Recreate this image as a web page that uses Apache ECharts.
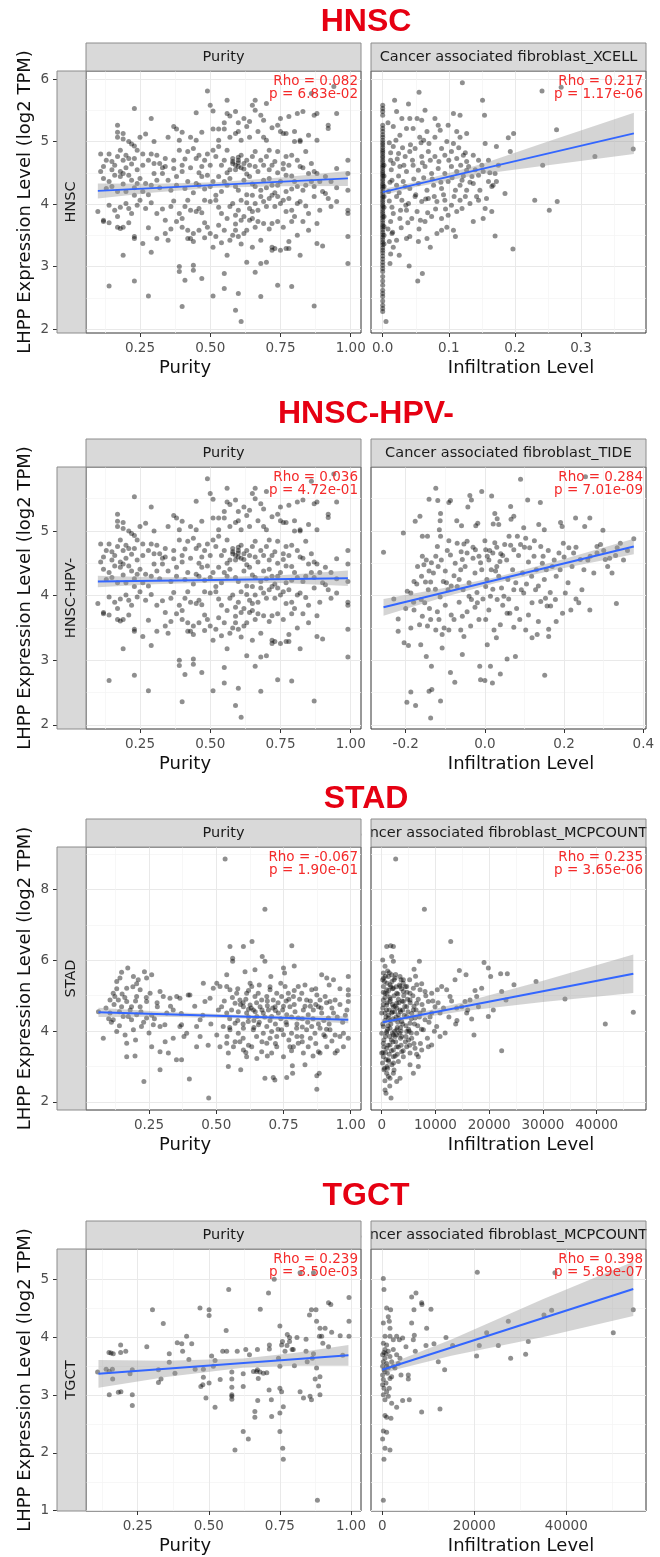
<!DOCTYPE html>
<html>
<head>
<meta charset="utf-8">
<script src="https://cdn.jsdelivr.net/npm/echarts@6/dist/echarts.min.js"></script>
<style>
html, body { margin: 0; padding: 0; background: #fff; }
#chart { width: 660px; height: 1557px; }
</style>
</head>
<body>
<div id="chart"></div>
<script>
// ---------- data ----------
var hnscPurity = [
  [0.49,5.81],[0.23,5.53],[0.29,5.37],[0.45,5.46],[0.50,5.58],[0.51,5.49],[0.56,5.66],[0.56,5.45],[0.59,5.48],[0.57,5.41],
  [0.62,5.37],[0.65,5.58],[0.66,5.66],[0.66,5.50],[0.68,5.42],[0.70,5.61],[0.69,5.34],[0.75,5.37],[0.78,5.40],[0.81,5.45],
  [0.83,5.48],[0.87,5.42],[0.88,5.45],[0.95,5.45],[0.92,5.26],[0.92,5.21],[0.86,5.77],[0.94,5.88],
  [0.17,5.26],[0.17,5.15],[0.19,5.13],[0.17,5.07],[0.21,5.00],[0.22,4.96],[0.25,5.07],[0.23,4.93],[0.37,5.24],[0.38,5.20],
  [0.35,5.07],[0.39,5.02],[0.43,5.07],[0.45,5.02],[0.51,5.20],[0.53,5.20],[0.55,5.20],[0.53,5.02],[0.57,5.07],[0.59,5.13],
  [0.60,5.16],[0.61,5.02],[0.64,5.07],[0.67,5.16],[0.69,5.07],[0.70,5.02],[0.74,5.26],[0.75,5.16],[0.76,5.13],[0.77,5.13],
  [0.80,5.16],[0.80,5.00],[0.82,5.00],[0.82,5.02],[0.85,5.10],[0.88,5.02],
  [0.11,4.80],[0.14,4.80],[0.11,4.52],[0.12,4.60],[0.15,4.68],[0.17,4.76],[0.18,4.86],[0.20,4.78],[0.21,4.73],[0.23,4.73],
  [0.24,4.86],[0.26,4.80],[0.29,4.80],[0.30,4.65],[0.32,4.65],[0.34,4.73],[0.34,4.60],[0.37,4.57],[0.39,4.86],[0.42,4.84],
  [0.44,4.89],[0.45,4.73],[0.46,4.78],[0.49,4.80],[0.51,4.86],[0.52,4.76],[0.53,4.92],[0.56,4.86],[0.58,4.73],[0.58,4.65],
  [0.60,4.70],[0.60,4.60],[0.61,4.78],[0.62,4.65],[0.63,4.70],[0.65,4.76],[0.66,4.60],[0.66,4.84],[0.68,4.70],[0.70,4.76],
  [0.71,4.86],[0.72,4.62],[0.74,4.84],[0.76,4.65],[0.77,4.76],[0.79,4.78],[0.81,4.70],[0.82,4.60],[0.84,4.84],[0.85,4.49],
  [0.87,4.52],[0.91,4.44],[0.95,4.57],[0.99,4.70],[0.59,4.62],[0.60,4.66],[0.61,4.58],
  [0.12,4.41],[0.14,4.36],[0.16,4.46],[0.18,4.44],[0.19,4.49],[0.21,4.46],[0.22,4.38],[0.24,4.33],[0.25,4.41],[0.27,4.33],
  [0.30,4.49],[0.31,4.38],[0.33,4.49],[0.35,4.38],[0.38,4.44],[0.40,4.52],[0.42,4.36],[0.45,4.33],[0.47,4.44],[0.49,4.46],
  [0.51,4.36],[0.53,4.44],[0.55,4.36],[0.57,4.41],[0.59,4.28],[0.62,4.38],[0.64,4.44],[0.66,4.28],[0.69,4.38],[0.71,4.41],
  [0.72,4.30],[0.75,4.36],[0.77,4.46],[0.80,4.36],[0.81,4.28],[0.84,4.30],[0.86,4.36],[0.88,4.49],[0.89,4.36],[0.93,4.36],
  [0.99,4.49],[0.13,4.25],[0.20,4.20],[0.28,4.15],[0.36,4.22],[0.44,4.18],[0.48,4.24],[0.54,4.20],[0.63,4.15],[0.68,4.22],
  [0.73,4.18],[0.79,4.24],[0.90,4.20],
  [0.10,3.88],[0.12,3.74],[0.14,3.98],[0.16,3.90],[0.17,3.80],[0.20,4.01],[0.21,3.93],[0.22,3.85],[0.23,4.14],[0.25,4.06],
  [0.27,3.93],[0.31,3.85],[0.34,3.74],[0.36,3.96],[0.39,3.85],[0.40,3.77],[0.42,4.06],[0.43,3.90],[0.45,3.88],[0.46,3.93],
  [0.48,4.06],[0.50,4.04],[0.52,4.14],[0.52,4.06],[0.54,3.85],[0.56,3.77],[0.57,3.96],[0.58,4.01],[0.60,3.90],[0.61,4.06],
  [0.62,3.80],[0.64,3.93],[0.65,4.14],[0.65,3.88],[0.66,4.01],[0.68,4.12],[0.69,4.04],[0.70,3.96],[0.71,4.09],[0.72,4.14],
  [0.74,4.12],[0.75,4.01],[0.76,4.06],[0.78,4.09],[0.79,3.90],[0.80,3.80],[0.81,4.01],[0.82,4.04],[0.85,3.85],[0.87,4.12],
  [0.91,4.17],[0.92,4.09],[0.93,3.96],[0.95,4.04],[0.99,4.22],[0.99,3.85],[0.99,3.90],
  [0.12,3.72],[0.17,3.63],[0.18,3.61],[0.19,3.63],[0.23,3.48],[0.23,3.45],[0.26,3.37],[0.31,3.45],[0.34,3.53],[0.35,3.42],
  [0.38,3.72],[0.40,3.63],[0.42,3.58],[0.42,3.45],[0.43,3.45],[0.44,3.53],[0.46,3.58],[0.49,3.63],[0.50,3.53],[0.52,3.48],
  [0.55,3.58],[0.57,3.42],[0.58,3.50],[0.59,3.58],[0.60,3.48],[0.61,3.74],[0.62,3.53],[0.63,3.58],[0.64,3.74],[0.65,3.77],
  [0.66,3.63],[0.69,3.69],[0.72,3.69],[0.74,3.72],[0.76,3.63],[0.79,3.72],[0.83,3.72],[0.85,3.58],[0.88,3.69],[0.99,3.48],
  [0.19,3.18],[0.29,3.23],[0.39,3.00],[0.39,2.92],[0.41,2.78],[0.44,3.02],[0.44,2.94],[0.47,2.81],[0.51,3.31],[0.55,2.89],
  [0.56,3.18],[0.63,3.07],[0.66,2.91],[0.68,3.05],[0.70,3.07],[0.72,3.31],[0.72,3.26],[0.73,3.29],[0.75,3.26],[0.77,3.29],
  [0.78,3.40],[0.78,3.29],[0.82,3.18],[0.88,3.37],[0.90,3.33],[0.99,3.05],[0.65,3.31],
  [0.14,2.69],[0.23,2.77],[0.28,2.53],[0.40,2.36],[0.51,2.53],[0.55,2.65],[0.59,2.30],[0.60,2.57],[0.61,2.12],[0.68,2.52],
  [0.74,2.70],[0.79,2.68],[0.87,2.37],
  [0.58,4.68],[0.59,4.55],[0.60,4.75],[0.62,4.56],[0.63,4.48],[0.64,4.62],[0.57,4.55],[0.55,4.70],[0.54,4.62],[0.56,4.50],
  [0.67,4.52],[0.69,4.62],[0.71,4.55],[0.73,4.68],[0.74,4.50],[0.76,4.56],[0.78,4.62],[0.79,4.45],[0.83,4.58],[0.86,4.65],
  [0.15,4.55],[0.16,4.62],[0.18,4.52],[0.19,4.70],[0.20,4.58],[0.22,4.64],[0.24,4.55],[0.26,4.62],[0.28,4.70],[0.13,4.70],
  [0.40,4.62],[0.41,4.72],[0.43,4.58],[0.47,4.60],[0.48,4.70],[0.50,4.62],[0.46,4.50],[0.37,4.70],[0.33,4.58],[0.31,4.78],
  [0.15,4.28],[0.17,4.20],[0.19,4.32],[0.23,4.26],[0.26,4.20],[0.29,4.30],[0.32,4.26],[0.38,4.30],[0.41,4.25],[0.46,4.30],
  [0.50,4.28],[0.56,4.30],[0.60,4.22],[0.65,4.32],[0.70,4.26],[0.74,4.30],[0.77,4.20],[0.83,4.22],[0.87,4.28],[0.95,4.26],
  [0.18,3.95],[0.24,3.98],[0.29,4.02],[0.33,3.92],[0.37,4.05],[0.41,3.96],[0.47,3.86],[0.53,3.95],[0.59,3.82],[0.63,4.02],
  [0.67,3.90],[0.73,3.96],[0.77,3.88],[0.84,3.97],[0.89,3.90],[0.48,3.70],[0.53,3.66],[0.59,3.68],[0.67,3.72],[0.71,3.60],
  [0.44,3.40],[0.48,3.46],[0.54,3.38],[0.61,3.36],[0.68,3.42],[0.81,3.50],[0.36,3.60],[0.28,3.62],[0.14,3.70],[0.21,3.70],
  [0.60,5.30],[0.63,5.24],[0.72,5.22],[0.64,5.32],[0.55,5.30],[0.47,5.15],[0.40,5.15],[0.30,5.00],[0.27,5.12],[0.19,5.04]
];

var hnscXcell = [
  [0,5.58],[0,5.53],[0,5.48],[0,5.42],[0,5.26],[0,5.21],[0,5.16],[0,5.11],[0,5.07],[0,5.02],[0,4.98],[0,4.95],[0,4.91],
  [0,4.87],[0,4.84],[0,4.81],[0,4.77],[0,4.74],[0,4.70],[0,4.67],[0,4.63],[0,4.60],[0,4.57],[0,4.53],[0,4.50],[0,4.47],
  [0,4.44],[0,4.40],[0,4.37],[0,4.33],[0,4.30],[0,4.27],[0,4.24],[0,4.20],[0,4.17],[0,4.13],[0,4.10],[0,4.06],[0,4.03],
  [0,3.99],[0,3.96],[0,3.92],[0,3.88],[0,3.85],[0,3.81],[0,3.78],[0,3.74],[0,3.70],[0,3.66],[0,3.63],[0,3.59],[0,3.55],
  [0,3.51],[0,3.47],[0,3.43],[0,3.39],[0,3.35],[0,3.30],[0,3.26],[0,3.22],[0,3.17],[0,3.12],[0,3.07],[0,3.02],[0,2.97],
  [0,2.92],[0,2.84],[0,2.77],[0,2.70],[0,2.62],[0,2.57],[0,2.52],[0,2.45],[0,2.38],[0,2.33],[0,2.28],[0.005,2.12],
  [0.002,4.62],[0.002,4.45],[0.002,4.28],[0.002,4.12],[0.002,3.95],[0.002,3.80],[0.002,3.64],[0.002,3.50],[0.002,3.36],
  [0.1205,5.94],[0.055,5.79],[0.018,5.66],[0.039,5.60],[0.064,5.50],[0.151,5.66],[0.154,5.42],[0.241,5.81],[0.27,5.87],
  [0.021,5.48],[0.029,5.37],[0.041,5.37],[0.052,5.37],[0.059,5.34],[0.079,5.37],[0.107,5.45],[0.117,5.42],[0.084,5.26],
  [0.099,5.26],[0.087,5.18],[0.112,5.16],[0.127,5.13],[0.117,5.07],[0.067,5.16],[0.046,5.21],[0.036,5.21],[0.016,5.24],
  [0.026,5.10],[0.056,5.07],[0.062,5.02],[0.079,5.07],[0.097,5.00],[0.107,4.97],[0.155,4.97],[0.172,4.92],[0.190,5.06],
  [0.198,5.13],[0.193,4.84],[0.263,5.19],[0.321,4.76],[0.379,4.88],[0.242,4.62],
  [0.016,4.92],[0.024,4.81],[0.034,4.76],[0.041,4.84],[0.049,4.89],[0.059,4.76],[0.069,4.84],[0.079,4.76],[0.089,4.89],
  [0.094,4.78],[0.104,4.84],[0.112,4.73],[0.122,4.78],[0.127,4.68],[0.137,4.78],[0.145,4.70],[0.016,4.65],[0.026,4.60],
  [0.036,4.52],[0.046,4.62],[0.054,4.54],[0.064,4.60],[0.074,4.49],[0.084,4.57],[0.094,4.49],[0.104,4.60],[0.112,4.52],
  [0.120,4.38],[0.127,4.54],[0.135,4.44],[0.145,4.46],[0.152,4.52],[0.160,4.36],[0.170,4.49],[0.167,4.30],[0.172,4.36],
  [0.014,4.38],[0.021,4.30],[0.031,4.36],[0.041,4.25],[0.054,4.33],[0.067,4.22],[0.077,4.30],[0.089,4.25],[0.099,4.36],
  [0.110,4.22],[0.117,4.30],[0.127,4.22],[0.137,4.33],[0.147,4.22],[0.165,4.28],[0.185,4.17],[0.157,4.09],
  [0.021,4.12],[0.029,4.06],[0.039,4.01],[0.049,4.12],[0.059,4.04],[0.069,4.09],[0.082,4.04],[0.094,4.06],[0.104,3.98],
  [0.117,4.06],[0.125,4.12],[0.132,4.01],[0.145,4.06],[0.155,3.93],[0.165,3.88],[0.230,4.06],[0.264,4.04],[0.252,3.90],
  [0.016,3.85],[0.026,3.77],[0.036,3.90],[0.044,3.77],[0.057,3.74],[0.064,3.72],[0.074,3.80],[0.089,3.77],[0.099,3.82],
  [0.112,3.88],[0.120,3.93],[0.137,3.72],[0.152,3.77],[0.014,3.53],[0.021,3.42],[0.036,3.45],[0.041,3.48],[0.054,3.40],
  [0.067,3.45],[0.072,3.31],[0.082,3.53],[0.089,3.58],[0.097,3.63],[0.107,3.58],[0.110,3.48],[0.170,3.49],[0.016,3.31],
  [0.025,3.18],[0.040,3.01],[0.060,2.89],[0.053,2.77],[0.197,3.28],[0.012,4.70],[0.010,4.05],[0.008,3.60],
  [0.008,5.30],[0.010,4.98],[0.012,4.82],[0.013,4.55],[0.011,4.35],[0.009,4.20],[0.014,3.95],[0.012,3.72],[0.015,3.55],
  [0.010,3.40],[0.012,3.20],[0.011,3.05],[0.020,5.02],[0.022,4.72],[0.024,4.45],[0.025,4.18],[0.027,3.90],[0.028,3.62],
  [0.030,4.90],[0.032,4.62],[0.034,4.28],[0.035,3.98],[0.038,3.70],[0.042,4.95],[0.045,4.70],[0.047,4.40],[0.050,4.15],
  [0.052,3.88],[0.055,3.60],[0.058,4.98],[0.060,4.66],[0.062,4.42],[0.065,4.08],[0.068,3.86],[0.070,4.97],[0.072,4.70],
  [0.075,4.40],[0.078,4.12],[0.080,3.92],[0.085,4.68],[0.088,4.35],[0.092,4.15],[0.095,3.92],[0.100,4.70],[0.105,4.42],
  [0.108,4.12],[0.115,4.90],[0.118,4.62],[0.122,4.45],[0.125,4.82],[0.130,4.60],[0.132,4.35],[0.140,4.55],[0.142,4.12],
  [0.150,4.62],[0.160,4.70],[0.162,4.50],[0.175,4.62]
];

var hpvNegPurity = hnscPurity;

var hpvNegTide = [
  [-0.256,4.67],[-0.206,4.97],[-0.124,5.66],[-0.141,5.49],[-0.119,5.47],[-0.091,5.44],[-0.087,5.47],[-0.038,5.55],
  [-0.034,5.48],[-0.008,5.61],[0.017,5.54],[-0.043,5.37],[0.090,5.80],[0.108,5.48],[0.140,5.44],[0.254,5.84],
  [-0.164,5.23],[-0.176,5.15],[-0.112,5.27],[-0.113,5.16],[-0.115,5.02],[-0.112,4.92],[-0.158,4.92],[-0.145,4.92],
  [-0.071,5.16],[-0.059,5.08],[-0.023,5.08],[-0.018,5.12],[0.025,5.27],[0.031,5.19],[0.065,5.38],[0.073,5.23],
  [0.066,5.18],[0.021,5.11],[0.035,5.10],[0.098,5.05],[0.136,5.10],[0.150,5.02],[0.191,5.13],[0.195,5.07],[0.229,5.20],
  [0.252,5.07],[0.265,5.20],[0.298,5.01],
  [-0.091,4.85],[-0.070,4.81],[-0.053,4.80],[-0.045,4.84],[-0.087,4.63],[-0.120,4.76],[-0.124,4.61],[-0.135,4.51],
  [-0.158,4.61],[-0.154,4.48],[-0.141,4.38],[-0.118,4.45],[-0.105,4.22],[-0.097,4.20],[-0.078,4.31],[-0.061,4.40],
  [-0.057,4.56],[-0.045,4.66],[-0.024,4.71],[-0.015,4.61],[-0.011,4.51],[0.002,4.71],[0.006,4.61],[0.016,4.40],
  [0.027,4.38],[0.038,4.53],[0.050,4.79],[0.061,4.92],[0.073,4.71],[0.082,4.92],[0.090,4.79],[0.103,4.89],[0.113,4.74],
  [0.124,4.61],[0.141,4.76],[0.147,4.61],[0.155,4.40],[0.170,4.45],[0.187,4.66],[0.198,4.81],[0.212,4.74],[0.224,4.66],
  [0.241,4.56],[0.266,4.61],[0.283,4.76],[0.304,4.56],[0.321,4.35],[0.315,4.58],[0.334,4.74],[0.342,4.81],[0.376,4.88],
  [0.283,4.66],[0.292,4.79],[0.010,4.55],[0.020,4.66],[-0.030,4.58],[0.045,4.62],[0.030,4.75],
  [-0.196,4.07],[-0.187,4.04],[-0.179,4.22],[-0.172,4.18],[-0.150,4.21],[-0.137,4.21],[-0.143,4.09],[-0.161,3.94],
  [-0.152,3.89],[-0.113,3.98],[-0.093,4.09],[-0.070,4.14],[-0.055,4.09],[-0.040,3.99],[-0.034,3.94],[-0.019,3.89],
  [0.002,4.14],[0.014,3.99],[0.031,3.94],[0.048,3.99],[0.056,3.73],[0.063,3.73],[0.073,4.09],[0.092,4.09],[0.098,4.04],
  [0.119,3.89],[0.128,4.09],[0.141,3.91],[0.153,3.96],[0.157,3.84],[0.166,3.84],[0.178,3.94],[0.196,3.73],[0.203,4.04],
  [0.217,3.78],[0.237,3.89],[0.245,4.09],[0.265,3.78],[0.332,3.88],
  [-0.219,3.64],[-0.219,3.45],[-0.187,3.50],[-0.204,3.27],[-0.193,3.23],[-0.162,3.24],[-0.179,3.78],[-0.158,3.68],
  [-0.145,3.53],[-0.137,3.63],[-0.116,3.63],[-0.124,3.47],[-0.108,3.40],[-0.103,3.50],[-0.091,3.47],[-0.078,3.63],
  [-0.057,3.68],[-0.061,3.47],[-0.053,3.37],[-0.036,3.53],[-0.015,3.63],[0.002,3.63],[0.023,3.47],[0.029,3.35],
  [0.006,3.24],[0.039,3.55],[0.073,3.51],[0.088,3.63],[0.103,3.47],[0.119,3.35],[0.132,3.40],[0.161,3.37],[0.161,3.48],
  [-0.108,3.19],[-0.148,3.06],[-0.135,2.91],[-0.134,2.55],[-0.141,2.52],[-0.087,2.81],[-0.076,2.66],[-0.057,3.09],
  [-0.013,2.91],[0.014,2.91],[-0.011,2.70],[0.000,2.69],[0.019,2.65],[0.039,2.79],[0.056,3.02],[0.077,3.06],[0.151,2.77],
  [-0.197,2.35],[-0.175,2.30],[-0.187,2.51],[-0.112,2.37],[-0.137,2.11],
  [-0.170,4.45],[-0.160,4.30],[-0.148,4.55],[-0.130,4.35],[-0.125,4.10],[-0.110,4.55],[-0.100,4.38],[-0.095,4.70],
  [-0.085,4.15],[-0.075,4.50],[-0.065,4.25],[-0.060,4.68],[-0.050,4.45],[-0.040,4.20],[-0.030,4.75],[-0.025,4.35],
  [-0.020,4.05],[-0.008,4.40],[0.000,4.85],[0.005,4.25],[0.012,4.70],[0.020,4.10],[0.025,4.82],[0.030,4.45],[0.035,4.30],
  [0.040,4.65],[0.042,4.12],[0.055,4.55],[0.058,4.25],[0.065,4.78],[0.070,4.40],[0.078,4.20],[0.085,4.62],[0.095,4.35],
  [0.100,4.75],[0.105,4.18],[0.110,4.52],[0.118,4.30],[0.125,4.85],[0.130,4.40],[0.135,4.15],[0.145,4.50],[0.150,4.25],
  [0.160,4.70],[0.165,4.05],[0.175,4.55],[0.180,4.30],[0.190,4.40],[0.200,4.60],[0.210,4.20],[0.220,4.45],[0.230,4.75],
  [0.250,4.40],[0.260,4.55],[0.275,4.35],[0.300,4.70],[0.310,4.45],[0.330,4.62],[0.350,4.55],[0.360,4.70],
  [-0.180,3.90],[-0.165,3.55],[-0.140,3.80],[-0.120,3.75],[-0.100,3.85],[-0.085,3.70],[-0.065,3.90],[-0.045,3.75],
  [-0.025,3.82],[-0.005,3.95],[0.010,3.78],[0.045,3.85],[0.060,3.95],[0.080,3.80],[0.110,3.70],[0.135,3.60],[0.180,3.60],
  [0.230,3.95],[-0.200,3.80],[-0.230,3.95]
];

var stadPurity = [
  [0.533,8.86],[0.681,7.44],[0.551,6.39],[0.561,6.06],[0.561,5.97],[0.633,6.53],[0.601,6.39],[0.671,6.11],[0.681,5.97],
  [0.781,6.41],[0.790,5.84],[0.750,5.78],[0.754,5.64],[0.892,5.59],[0.911,5.50],[0.936,5.45],[0.991,5.54],[0.607,5.68],
  [0.644,5.73],[0.703,5.54],[0.539,5.59],[0.502,5.35],[0.452,5.35],
  [0.171,5.78],[0.192,5.54],[0.130,5.40],[0.142,5.50],[0.148,5.66],[0.233,5.68],[0.241,5.50],[0.260,5.59],[0.204,5.34],
  [0.217,5.17],[0.167,5.21],[0.117,5.07],[0.123,4.98],[0.136,4.88],[0.105,4.88],[0.148,4.69],[0.167,4.84],[0.185,4.69],
  [0.204,4.98],[0.217,4.69],[0.241,4.84],[0.254,5.07],[0.291,5.12],[0.303,4.98],[0.328,4.93],[0.353,4.98],[0.365,4.93],
  [0.396,5.02],[0.402,5.02],[0.281,4.69],[0.316,4.51],[0.340,4.60],[0.371,4.18],[0.340,3.80],[0.365,4.13],[0.390,3.94],
  [0.427,4.13],[0.440,4.32],[0.458,4.84],[0.477,4.93],[0.489,5.21],[0.508,4.60],[0.502,3.89],[0.062,4.55],[0.080,3.80],
  [0.105,4.51],[0.117,4.32],[0.130,3.99],[0.161,3.89],[0.154,4.41],[0.173,4.41],[0.185,4.32],[0.192,4.04],[0.204,4.46],
  [0.222,4.13],[0.241,4.37],[0.266,4.18],[0.291,4.13],[0.309,4.18],[0.167,3.66],[0.167,3.28],[0.198,3.30],[0.260,3.56],
  [0.291,3.42],[0.322,3.38],[0.352,3.19],[0.371,3.19],[0.427,3.56],[0.291,2.91],[0.400,2.65],[0.231,2.58],[0.472,2.11],
  [0.514,5.26],[0.539,5.26],[0.551,5.17],[0.576,5.07],[0.588,4.88],[0.613,5.07],[0.626,5.35],[0.632,5.26],[0.644,4.98],
  [0.656,5.07],[0.669,4.88],[0.688,4.98],[0.700,5.17],[0.712,4.88],[0.725,5.07],[0.743,4.98],[0.756,5.26],[0.768,5.07],
  [0.787,4.98],[0.805,5.26],[0.818,5.07],[0.836,4.88],[0.855,5.17],[0.874,5.02],[0.886,4.88],[0.905,4.98],[0.923,4.84],
  [0.942,4.88],[0.991,5.17],[0.991,5.02],[0.991,4.84],
  [0.520,4.69],[0.539,4.51],[0.557,4.60],[0.570,4.79],[0.582,4.55],[0.601,4.69],[0.613,4.51],[0.626,4.74],[0.638,4.60],
  [0.651,4.41],[0.663,4.69],[0.675,4.51],[0.694,4.60],[0.706,4.41],[0.719,4.69],[0.731,4.51],[0.747,4.60],[0.762,4.46],
  [0.774,4.69],[0.793,4.55],[0.805,4.37],[0.824,4.60],[0.842,4.46],[0.861,4.60],[0.880,4.69],[0.892,4.51],[0.917,4.37],
  [0.936,4.51],[0.986,4.60],[0.600,4.80],[0.620,4.62],[0.645,4.55],[0.690,4.72],[0.720,4.58],[0.760,4.85],[0.850,4.70],
  [0.526,4.13],[0.551,4.04],[0.570,4.22],[0.582,3.94],[0.601,4.08],[0.619,4.27],[0.638,4.04],[0.657,4.18],[0.675,3.94],
  [0.688,4.13],[0.706,3.99],[0.725,3.85],[0.743,4.04],[0.762,4.18],[0.780,3.94],[0.799,4.08],[0.818,3.85],[0.836,4.04],
  [0.855,4.13],[0.867,3.94],[0.886,4.08],[0.905,3.85],[0.923,4.04],[0.942,3.89],[0.973,3.94],[0.991,3.80],
  [0.514,3.56],[0.539,3.66],[0.545,3.38],[0.564,3.56],[0.588,3.70],[0.601,3.47],[0.613,3.28],[0.632,3.56],[0.651,3.23],
  [0.669,3.42],[0.688,3.66],[0.706,3.38],[0.725,3.56],[0.750,3.28],[0.774,3.56],[0.787,3.56],[0.805,3.66],[0.824,3.38],
  [0.830,3.05],[0.842,3.56],[0.880,3.42],[0.886,3.38],[0.911,3.56],[0.942,3.38],[0.973,3.56],[0.545,3.00],[0.591,2.91],
  [0.681,2.67],[0.712,2.69],[0.718,2.62],[0.762,2.69],[0.784,2.81],[0.874,2.74],[0.883,2.81],[0.874,2.36],[0.783,3.02],
  [0.53,4.85],[0.55,4.35],[0.56,4.95],[0.58,4.30],[0.59,4.75],[0.60,4.20],[0.61,4.90],[0.62,4.40],[0.63,4.65],[0.64,4.30],
  [0.65,4.80],[0.66,4.25],[0.67,4.60],[0.68,4.40],[0.69,4.85],[0.70,4.30],[0.71,4.65],[0.72,4.20],[0.73,4.80],[0.74,4.35],
  [0.75,4.70],[0.76,4.25],[0.77,4.90],[0.78,4.40],[0.79,4.75],[0.80,4.20],[0.81,4.90],[0.82,4.35],[0.83,4.70],[0.84,4.25],
  [0.85,4.85],[0.86,4.35],[0.87,4.75],[0.88,4.20],[0.89,4.65],[0.90,4.30],[0.91,4.80],[0.92,4.20],[0.93,4.65],[0.95,4.40],
  [0.96,4.75],[0.97,4.25],[0.98,4.45],[0.54,3.85],[0.57,3.70],[0.60,3.80],[0.62,3.60],[0.65,3.85],[0.67,3.70],[0.70,3.80],
  [0.72,3.65],[0.75,3.90],[0.77,3.75],[0.80,3.85],[0.82,3.70],[0.85,3.80],[0.87,3.65],[0.90,3.90],[0.93,3.72],[0.96,3.85],
  [0.58,5.20],[0.62,5.15],[0.66,5.30],[0.70,5.25],[0.74,5.35],[0.79,5.15],[0.83,5.30],[0.87,5.20],[0.92,5.30],[0.96,5.20],
  [0.55,4.10],[0.64,4.10],[0.73,4.05],[0.82,4.12],[0.91,4.05],[0.61,3.40],[0.69,3.30],[0.78,3.45],[0.86,3.30],[0.95,3.45],
  [0.12,4.75],[0.14,4.55],[0.16,4.95],[0.18,4.60],[0.20,4.85],[0.22,4.55],[0.24,4.95],[0.26,4.45],[0.28,4.80],[0.13,5.20],
  [0.15,5.05],[0.19,5.25],[0.21,5.45],[0.23,4.25],[0.27,4.35],[0.09,4.65],[0.11,4.25],[0.33,4.70],[0.37,4.50],[0.42,4.70],
  [0.45,4.45],[0.48,4.20],[0.44,3.85],[0.47,3.60],[0.38,3.85],[0.31,3.70],[0.25,3.95],[0.20,3.75],[0.14,4.15],[0.10,4.35]
];

var stadMcp = [
  [2600,8.86],[7940,7.44],[12840,6.53],[930,6.39],[1670,6.41],[2170,6.39],[1860,6.11],[2170,5.97],[7010,5.97],[6020,5.75],
  [19040,5.94],[19840,5.78],[14450,5.71],[15690,5.59],[22130,5.62],[23370,5.62],[28710,5.40],[24610,5.31],[20270,5.54],
  [13640,5.45],[34100,4.91],[46810,4.53],[41600,4.20],[22320,3.45],[17170,3.89],[13760,4.20],[19840,4.41],[20770,4.60],
  [22320,5.12],[23120,4.88],[17360,5.15],[16740,4.34],[15810,4.51],[14880,4.69],[13950,4.65],[12710,4.98],[11160,5.26],
  [10350,5.17],[9300,5.07],[8060,5.12],[7440,5.34],[8680,4.84],[9920,4.69],[10850,4.51],[9300,4.51],[10230,4.13],
  [10850,3.85],[9300,3.61],[8680,3.56],[7440,3.47],[6820,3.28],[5890,2.81],[6820,3.00],[5270,3.05],[3410,2.67],[2790,2.58],
  [620,2.34],[1740,2.11],[930,2.81],[1550,2.67],[17670,4.98],[18600,5.21],[18000,4.69],[15500,4.84],[16430,4.88],[12090,5.17],
  [310,5.64],[1240,5.54],[1860,5.59],[2480,5.50],[3410,5.54],[4030,5.45],[310,5.26],[930,5.17],[1550,5.31],[2170,5.21],
  [2790,5.07],[3410,5.26],[4030,5.12],[4650,5.26],[5270,5.07],[5890,5.21],[6510,5.31],[7130,5.17],[310,4.88],[930,4.74],
  [1550,4.84],[2170,4.69],[2790,4.79],[3410,4.60],[4030,4.84],[4650,4.69],[5270,4.88],[5890,4.60],[6510,4.79],[620,4.51],
  [1240,4.37],[1860,4.51],[2480,4.32],[3100,4.46],[3720,4.27],[4650,4.41],[5270,4.22],[6200,4.37],[7130,4.51],[8060,4.32],
  [310,4.13],[930,3.99],[1550,4.08],[2170,3.89],[2790,4.04],[3720,3.85],[4650,3.99],[5580,3.80],[6510,3.94],[7750,4.04],
  [310,3.66],[930,3.52],[1550,3.61],[2170,3.47],[2790,3.56],[3720,3.42],[4650,3.56],[5270,3.38],[6200,3.52],[310,3.28],
  [1240,3.19],[2170,3.28],[3100,3.14],[4030,3.28],[430,2.91],[1240,2.72],[2170,2.81],[620,5.07],[0,4.51],[0,3.94],[0,3.38],
  [190,5.45],[620,5.83],[190,6.01],
  [500,5.40],[1000,5.05],[1500,4.95],[2000,4.55],[2500,4.70],[3000,4.25],[3500,4.10],[4200,4.45],[4800,4.90],[5500,4.35],
  [6000,4.70],[600,4.30],[1200,4.15],[1800,3.75],[2600,3.70],[3300,3.95],[4400,3.70],[5200,3.60],[700,3.85],[1400,3.35],
  [2200,3.10],[2900,3.35],[3600,3.60],[4100,5.00],[2300,5.45],[1100,5.70],[1700,5.25],[3900,4.60],[5000,4.05],[6700,4.15],
  [7500,4.75],[8200,5.00],[8800,4.25],[9500,4.85],[6300,5.55],[2000,3.95],[900,4.60],[1300,4.45],[300,4.75],[400,3.55],
  [1000,3.00],[500,2.95],[2700,4.40],[3200,4.80],[1600,4.30],[2400,4.00],[3700,5.20],
  [300,5.10],[600,4.95],[800,4.40],[1000,4.80],[1100,4.05],[1300,5.15],[1400,4.60],[1600,4.90],[1700,4.20],[1900,5.40],
  [2000,4.75],[2100,4.35],[2300,5.00],[2400,4.55],[2500,3.85],[2700,5.25],[2800,4.65],[2900,4.10],[3100,4.90],[3200,4.35],
  [3300,5.30],[3500,4.55],[3600,4.00],[3800,4.85],[3900,4.20],[4000,5.35],[4300,4.70],[4500,4.15],[4700,5.10],[4900,4.55],
  [5100,4.00],[5300,4.80],[5600,4.50],[5800,5.00],[6100,4.20],[6400,4.60],[6800,4.90],[7000,4.40],[7400,4.05],[7800,4.60],
  [400,3.75],[700,3.40],[900,3.95],[1200,3.60],[1500,3.85],[1800,3.45],[2100,3.70],[2500,3.30],[2800,3.90],[3100,3.55],
  [3500,3.80],[4000,3.45],[4500,3.85],[5000,3.75],[5500,3.95],[6000,3.65],[200,4.20],[200,4.65],[250,3.40],[150,3.10],
  [350,5.50],[700,5.55],[1000,5.35],[1400,5.65],[2000,5.20],[2600,5.60],[3000,5.05],[3600,5.45],[4400,5.25],[5200,5.45],
  [800,3.20],[1100,2.95],[1300,3.15],[1900,3.05],[2300,2.90],[600,2.60],[1500,2.45],[800,2.25],[9000,4.40],[9800,4.00],
  [10500,4.80],[11500,4.65],[12500,4.40],[11800,3.95],[13000,4.85],[14000,4.30],[16000,4.60],[8500,3.80],[7200,3.65],[6500,3.35]
];

var tgctPurity = [
  [0.109,3.40],[0.139,3.45],[0.150,3.41],[0.161,3.45],[0.150,3.01],[0.149,3.74],[0.156,3.73],[0.164,3.72],[0.162,3.28],
  [0.190,3.87],[0.190,3.74],[0.208,3.76],[0.182,3.05],[0.191,3.06],[0.223,3.37],[0.231,3.44],[0.231,3.01],[0.231,2.82],
  [0.282,3.84],[0.302,4.48],[0.340,4.24],[0.323,3.44],[0.323,3.22],[0.332,3.28],[0.361,3.72],[0.361,3.57],[0.381,3.38],
  [0.389,3.91],[0.405,3.89],[0.408,3.76],[0.422,4.02],[0.430,3.62],[0.440,3.89],[0.452,3.45],[0.469,4.51],[0.501,4.48],
  [0.501,4.38],[0.472,3.15],[0.479,3.18],[0.481,3.45],[0.481,3.31],[0.490,2.95],[0.501,3.21],[0.510,3.68],[0.516,3.50],
  [0.522,3.60],[0.522,2.79],[0.540,3.27],[0.549,3.76],[0.563,3.76],[0.561,4.12],[0.570,4.83],[0.581,3.40],[0.581,3.28],
  [0.581,3.14],[0.581,3.01],[0.581,2.98],[0.581,2.93],[0.592,2.05],[0.600,3.76],[0.621,3.37],[0.621,3.15],[0.621,2.37],
  [0.630,3.79],[0.639,2.24],[0.643,3.70],[0.657,3.41],[0.662,2.72],[0.662,2.62],[0.668,3.41],[0.671,3.79],[0.671,3.44],
  [0.674,3.29],[0.680,3.40],[0.672,2.91],[0.681,4.49],[0.692,3.38],[0.704,3.39],[0.710,4.77],[0.713,3.87],[0.713,3.80],
  [0.712,3.09],[0.720,2.92],[0.721,2.63],[0.730,5.01],[0.745,3.64],[0.750,4.20],[0.750,3.50],[0.750,3.12],[0.750,2.69],
  [0.750,2.37],[0.756,3.06],[0.756,3.87],[0.759,3.93],[0.762,2.80],[0.760,2.08],[0.762,1.89],[0.768,3.76],[0.776,4.05],
  [0.784,4.00],[0.793,3.79],[0.801,3.51],[0.810,4.00],[0.821,3.06],[0.833,2.95],[0.842,3.97],[0.842,3.76],[0.846,3.58],
  [0.854,4.39],[0.861,4.48],[0.856,2.98],[0.861,2.92],[0.864,3.64],[0.868,3.72],[0.877,4.48],[0.879,4.28],[0.879,3.47],
  [0.874,3.28],[0.886,3.16],[0.889,4.02],[0.891,4.16],[0.891,3.32],[0.891,3.01],[0.897,4.02],[0.901,3.90],[0.909,4.16],
  [0.921,3.84],[0.921,4.60],[0.929,4.57],[0.932,4.09],[0.962,4.03],[0.971,3.69],[0.993,4.69],[0.993,4.28],[0.993,4.02],
  [0.882,1.18],[0.821,5.12],[0.868,5.12],[0.797,3.79],[0.784,3.93],[0.775,3.86]
];

var tgctMcp = [
  [220,5.02],[360,4.83],[6380,4.70],[7320,4.77],[8550,4.60],[8620,4.57],[10580,4.49],[6880,4.48],[6380,4.25],[9640,4.16],
  [6960,4.04],[6740,3.96],[4420,3.99],[3700,3.96],[3120,4.02],[5140,3.84],[7170,3.76],[9490,3.86],[11230,3.89],[13840,4.00],
  [15290,3.86],[12170,3.58],[13550,3.44],[20650,5.13],[37530,5.12],[20500,3.68],[21080,3.86],[22680,4.08],[25220,3.86],
  [27390,4.28],[27900,3.64],[31160,3.71],[31740,3.93],[35140,4.39],[36810,4.47],[50210,4.08],[54560,4.48],[4060,3.35],
  [5650,3.35],[5650,3.28],[4420,2.91],[5870,2.92],[3120,2.79],[8550,2.71],[12540,2.76],[580,2.65],[940,2.62],[1880,2.60],
  [220,2.38],[940,2.36],[70,2.24],[580,2.08],[1670,2.05],[360,1.89],[220,1.18],
  [940,4.51],[1300,4.36],[1810,4.48],[1520,4.28],[1670,4.16],[580,4.02],[220,3.90],[940,3.87],[580,3.79],[360,3.74],
  [800,3.72],[1300,3.76],[1670,3.67],[220,3.58],[940,3.55],[2030,3.58],[2390,3.50],[360,3.44],[1090,3.38],[2030,3.32],
  [220,3.27],[800,3.21],[1670,3.29],[360,3.12],[940,3.06],[220,3.01],[1300,2.98],[580,2.92],[2030,2.86],[2750,3.47],
  [2390,3.79],[3120,3.70],[3480,3.55],[3840,3.64],[220,4.25],[1670,4.02],[2390,3.96],[70,3.50],[70,3.70],[70,3.35],
  [70,3.18],[580,3.41],[1300,3.47],[1520,3.12],[580,3.64],[940,3.50]
];

// fitted lines and confidence bands ([x, lower, upper])
var hnscPurityFit = [[0.10,4.21],[0.99,4.41]];
var hnscPurityBand = [[0.10,4.09,4.33],[0.30,4.185,4.325],[0.52,4.259,4.349],[0.75,4.286,4.426],[0.99,4.29,4.53]];
var hnscXcellFit = [[0,4.19],[0.38,5.13]];
var hnscXcellBand = [[0,4.14,4.24],[0.05,4.274,4.354],[0.15,4.481,4.641],[0.25,4.619,4.999],[0.38,4.80,5.46]];
var hpvPurityFit = [[0.10,4.22],[0.99,4.27]];
var hpvPurityBand = [[0.10,4.13,4.31],[0.30,4.176,4.286],[0.52,4.204,4.284],[0.75,4.197,4.317],[0.99,4.15,4.39]];
var hpvTideFit = [[-0.256,3.82],[0.376,4.76]];
var hpvTideBand = [[-0.256,3.69,3.95],[-0.1,3.982,4.122],[0.03,4.20,4.29],[0.2,4.428,4.568],[0.376,4.64,4.88]];
var stadPurityFit = [[0.062,4.53],[0.991,4.32]];
var stadPurityBand = [[0.062,4.40,4.66],[0.3,4.406,4.546],[0.6,4.358,4.458],[0.8,4.293,4.433],[0.991,4.22,4.42]];
var stadMcpFit = [[190,4.25],[46810,5.62]];
var stadMcpBand = [[190,4.17,4.33],[4000,4.302,4.422],[15000,4.565,4.805],[30000,4.826,5.426],[46810,5.08,6.16]];
var tgctPurityFit = [[0.112,3.37],[0.991,3.69]];
var tgctPurityBand = [[0.112,3.13,3.61],[0.35,3.317,3.597],[0.62,3.475,3.635],[0.8,3.51,3.73],[0.991,3.51,3.87]];
var tgctMcpFit = [[0,3.44],[54560,4.84]];
var tgctMcpBand = [[0,3.36,3.52],[3000,3.447,3.587],[15000,3.685,3.965],[35000,4.008,4.668],[54560,4.37,5.31]];

// tick values
var purityTicks = [0.25, 0.5, 0.75, 1.0];
var purityMinor = [0.125, 0.375, 0.625, 0.875];
var xcellTicks = [0, 0.1, 0.2, 0.3];
var xcellMinor = [0.05, 0.15, 0.25, 0.35];
var tideTicks = [-0.2, 0, 0.2, 0.4];
var tideMinor = [-0.1, 0.1, 0.3];
var stadMcpTicks = [0, 10000, 20000, 30000, 40000];
var stadMcpMinor = [5000, 15000, 25000, 35000, 45000];
var tgctMcpTicks = [0, 20000, 40000];
var tgctMcpMinor = [10000, 30000, 50000];
var hnscYTicks = [2, 3, 4, 5, 6];
var hnscYMinor = [2.5, 3.5, 4.5, 5.5];
var hpvYTicks = [2, 3, 4, 5];
var hpvYMinor = [2.5, 3.5, 4.5, 5.5];
var stadYTicks = [2, 4, 6, 8];
var stadYMinor = [3, 5, 7, 9];
var tgctYTicks = [1, 2, 3, 4, 5];
var tgctYMinor = [1.5, 2.5, 3.5, 4.5];

// ---------- layout ----------
var FONT = "'DejaVu Sans', sans-serif";
var YTITLE = 'LHPP Expression Level (log2 TPM)';

var rows = [
  {title: 'HNSC', titleY: 22, facet: 'HNSC', top: 71, height: 262, y: [1.936, 6.128], yTicks: hnscYTicks, yMinor: hnscYMinor,
    panels: [
      {pts: hnscPurity, fit: hnscPurityFit, band: hnscPurityBand, x: [0.0578, 1.0367], ticks: purityTicks, minor: purityMinor, dig: 2,
        strip: 'Purity', name: 'Purity', rho: 'Rho = 0.082', p: 'p = 6.83e-02'},
      {pts: hnscXcell, fit: hnscXcellFit, band: hnscXcellBand, x: [-0.0177, 0.3983], ticks: xcellTicks, minor: xcellMinor, dig: 1,
        strip: 'Cancer associated fibroblast_XCELL', name: 'Infiltration Level', rho: 'Rho = 0.217', p: 'p = 1.17e-06'}
    ]},
  {title: 'HNSC-HPV-', titleY: 414, facet: 'HNSC-HPV-', top: 467, height: 262, y: [1.938, 5.99], yTicks: hpvYTicks, yMinor: hpvYMinor,
    panels: [
      {pts: hpvNegPurity, fit: hpvPurityFit, band: hpvPurityBand, x: [0.0578, 1.0367], ticks: purityTicks, minor: purityMinor, dig: 2,
        strip: 'Purity', name: 'Purity', rho: 'Rho = 0.036', p: 'p = 4.72e-01'},
      {pts: hpvNegTide, fit: hpvTideFit, band: hpvTideBand, x: [-0.2876, 0.4068], ticks: tideTicks, minor: tideMinor, dig: 1,
        strip: 'Cancer associated fibroblast_TIDE', name: 'Infiltration Level', rho: 'Rho = 0.284', p: 'p = 7.01e-09'}
    ]},
  {title: 'STAD', titleY: 799, facet: 'STAD', top: 847, height: 263, y: [1.774, 9.198], yTicks: stadYTicks, yMinor: stadYMinor,
    panels: [
      {pts: stadPurity, fit: stadPurityFit, band: stadPurityBand, x: [0.0157, 1.0383], ticks: purityTicks, minor: purityMinor, dig: 2,
        strip: 'Purity', name: 'Purity', rho: 'Rho = -0.067', p: 'p = 1.90e-01'},
      {pts: stadMcp, fit: stadMcpFit, band: stadMcpBand, x: [-1990, 49170], ticks: stadMcpTicks, minor: stadMcpMinor, dig: 0,
        strip: 'Cancer associated fibroblast_MCPCOUNTER', name: 'Infiltration Level', rho: 'Rho = 0.235', p: 'p = 3.65e-06'}
    ]},
  {title: 'TGCT', titleY: 1196, facet: 'TGCT', top: 1249, height: 262, y: [0.995, 5.532], yTicks: tgctYTicks, yMinor: tgctYMinor,
    panels: [
      {pts: tgctPurity, fit: tgctPurityFit, band: tgctPurityBand, x: [0.0682, 1.0352], ticks: purityTicks, minor: purityMinor, dig: 2,
        strip: 'Purity', name: 'Purity', rho: 'Rho = 0.239', p: 'p = 3.50e-03'},
      {pts: tgctMcp, fit: tgctMcpFit, band: tgctMcpBand, x: [-2457, 57326], ticks: tgctMcpTicks, minor: tgctMcpMinor, dig: 0,
        strip: 'Cancer associated fibroblast_MCPCOUNTER', name: 'Infiltration Level', rho: 'Rho = 0.398', p: 'p = 5.89e-07'}
    ]}
];

var PANEL_LEFT = [86, 371];
var PANEL_W = 275;
var STRIP_H = 28;
var NAME_X = [185, 521];

function fmt(dig) {
  return function (v) { return dig ? Number(v).toFixed(dig) : String(v); };
}

function bandRenderer(band) {
  return function (params, api) {
    if (params.dataIndex !== 0) return null;
    var upper = band.map(function (b) { return api.coord([b[0], b[2]]); });
    var lower = band.map(function (b) { return api.coord([b[0], b[1]]); }).reverse();
    return {
      type: 'polygon',
      shape: {points: upper.concat(lower)},
      style: {fill: 'rgba(153,153,153,0.42)'}
    };
  };
}

var grid = [], xAxis = [], yAxis = [], series = [], elements = [];

rows.forEach(function (row) {
  row.panels.forEach(function (pn, c) {
    var g = grid.length;
    var left = PANEL_LEFT[c];
    grid.push({left: left, top: row.top, width: PANEL_W, height: row.height, show: true,
      borderColor: '#333', borderWidth: 1, backgroundColor: '#fff'});

    xAxis.push({type: 'value', gridIndex: g, position: 'bottom', min: pn.x[0], max: pn.x[1],
      axisLine: {show: false},
      axisTick: {show: true, length: 4, customValues: pn.ticks, lineStyle: {color: '#333'}},
      axisLabel: {customValues: pn.ticks, margin: 8, color: '#4d4d4d', fontSize: 13.5, fontFamily: FONT, formatter: fmt(pn.dig)},
      splitLine: {show: true, lineStyle: {color: '#e9e9e9', width: 1}}});
    xAxis.push({type: 'value', gridIndex: g, position: 'top', min: pn.x[0], max: pn.x[1],
      axisLine: {show: false},
      axisTick: {show: false, customValues: pn.minor},
      axisLabel: {show: false, customValues: pn.minor},
      splitLine: {show: true, lineStyle: {color: '#f4f4f4', width: 0.7}}});

    yAxis.push({type: 'value', gridIndex: g, position: 'left', offset: c === 0 ? 29 : 0, min: row.y[0], max: row.y[1],
      axisLine: {show: false},
      axisTick: {show: c === 0, length: 4, customValues: row.yTicks, lineStyle: {color: '#333'}},
      axisLabel: {show: c === 0, customValues: row.yTicks, margin: 8, color: '#4d4d4d', fontSize: 13.5, fontFamily: FONT},
      splitLine: {show: true, lineStyle: {color: '#e9e9e9', width: 1}}});
    yAxis.push({type: 'value', gridIndex: g, position: 'right', min: row.y[0], max: row.y[1],
      axisLine: {show: false},
      axisTick: {show: false, customValues: row.yMinor},
      axisLabel: {show: false, customValues: row.yMinor},
      splitLine: {show: true, lineStyle: {color: '#f4f4f4', width: 0.7}}});

    series.push({type: 'scatter', xAxisIndex: 2 * g, yAxisIndex: 2 * g, data: pn.pts, symbolSize: 5,
      itemStyle: {color: 'rgba(0,0,0,0.55)'}, z: 2, silent: true});
    series.push({type: 'custom', xAxisIndex: 2 * g, yAxisIndex: 2 * g, data: pn.band, encode: {x: 0, y: [1, 2]},
      renderItem: bandRenderer(pn.band), z: 3, silent: true});
    series.push({type: 'line', xAxisIndex: 2 * g, yAxisIndex: 2 * g, data: pn.fit, symbol: 'none',
      lineStyle: {color: '#3366ff', width: 2}, z: 4, silent: true});

    // facet strip on top of the panel; left strips sit above the right strip's overflowing text
    var sy = row.top - STRIP_H;
    var zb = c === 0 ? 5 : 1;
    elements.push({type: 'rect', z: zb, shape: {x: left, y: sy, width: PANEL_W, height: STRIP_H}, style: {fill: '#d9d9d9'}});
    elements.push({type: 'text', z: zb + 1, x: left + PANEL_W / 2, y: sy + STRIP_H / 2,
      style: {text: pn.strip, fill: '#1a1a1a', fontSize: 14.5, fontFamily: FONT, align: 'center', verticalAlign: 'middle'}});
    elements.push({type: 'rect', z: 8, shape: {x: left, y: sy, width: PANEL_W, height: STRIP_H},
      style: {fill: 'none', stroke: '#8c8c8c', lineWidth: 1}});

    // statistics
    elements.push({type: 'text', z: 10, x: left + PANEL_W - 3, y: row.top + 10,
      style: {text: pn.rho, fill: '#f42a2a', fontSize: 13.5, fontFamily: FONT, align: 'right', verticalAlign: 'middle'}});
    elements.push({type: 'text', z: 10, x: left + PANEL_W - 3, y: row.top + 23,
      style: {text: pn.p, fill: '#f42a2a', fontSize: 13.5, fontFamily: FONT, align: 'right', verticalAlign: 'middle'}});

    // axis title
    elements.push({type: 'text', z: 5, x: NAME_X[c], y: row.top + row.height + 35,
      style: {text: pn.name, fill: '#111', fontSize: 18, fontFamily: FONT, align: 'center', verticalAlign: 'middle'}});
  });

  // mask strip text that runs outside its strip
  var my = row.top - STRIP_H - 1;
  elements.push({type: 'rect', z: 3, shape: {x: 361.5, y: my, width: 9, height: STRIP_H + 1}, style: {fill: '#fff'}});
  elements.push({type: 'rect', z: 3, shape: {x: 646.5, y: my, width: 14, height: STRIP_H + 1}, style: {fill: '#fff'}});

  // row facet strip on the left
  elements.push({type: 'rect', z: 1, shape: {x: 57, y: row.top, width: 29, height: row.height},
    style: {fill: '#d9d9d9', stroke: '#8c8c8c', lineWidth: 1}});
  elements.push({type: 'text', z: 2, x: 71.5, y: row.top + row.height / 2, rotation: Math.PI / 2,
    style: {text: row.facet, fill: '#1a1a1a', fontSize: 14.5, fontFamily: FONT, align: 'center', verticalAlign: 'middle'}});

  // y axis title
  elements.push({type: 'text', z: 2, x: 25, y: row.top + row.height / 2, rotation: Math.PI / 2,
    style: {text: YTITLE, fill: '#111', fontSize: 18, fontFamily: FONT, align: 'center', verticalAlign: 'middle'}});

  // row title
  elements.push({type: 'text', z: 2, x: 366, y: row.titleY,
    style: {text: row.title, fill: '#e60012', fontSize: 32, fontWeight: 'bold', fontFamily: "'Liberation Sans', Arial, sans-serif",
      align: 'center', verticalAlign: 'middle'}});
});

var chart = echarts.init(document.getElementById('chart'));
chart.setOption({
  animation: false,
  backgroundColor: '#fff',
  grid: grid,
  xAxis: xAxis,
  yAxis: yAxis,
  series: series,
  graphic: {elements: elements}
});

window.onresize = function () {
  chart.resize();
};
</script>
</body>
</html>
